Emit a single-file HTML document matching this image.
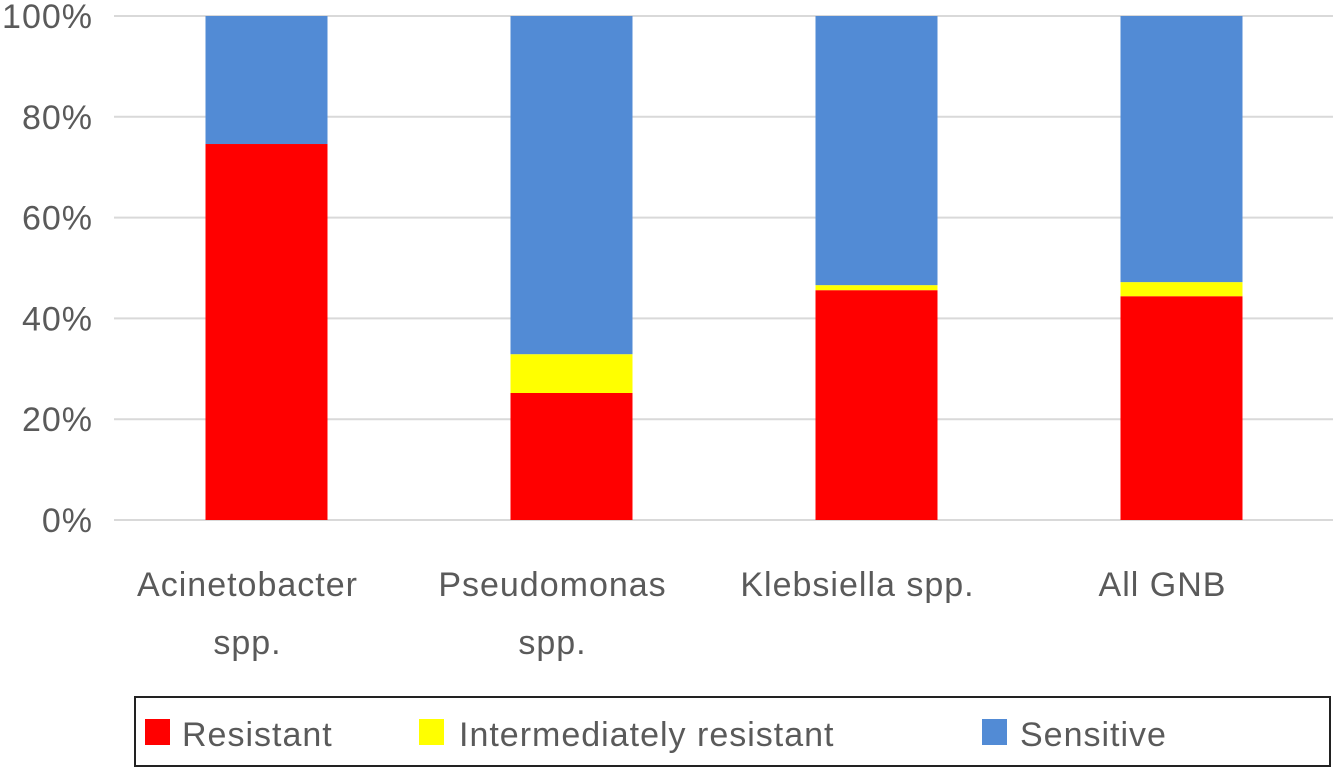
<!DOCTYPE html>
<html><head><meta charset="utf-8"><style>
body{margin:0;background:#fff;}
text{font-family:"Liberation Sans",sans-serif;fill:#5a5a5a;font-size:34px;letter-spacing:1px;}
</style></head><body>
<svg id="chart" width="1333" height="768" xmlns="http://www.w3.org/2000/svg">
<g id="grid"></g><g id="bars"></g><g id="labels"></g>
<g>
<rect x="135" y="697" width="1195" height="69" fill="#fff" stroke="#222" stroke-width="2"/>
<rect x="145" y="719" width="25" height="26" fill="#ff0000"/>
<text x="182" y="746">Resistant</text>
<rect x="419" y="719" width="25" height="26" fill="#ffff00"/>
<text x="459" y="746">Intermediately resistant</text>
<rect x="982" y="719" width="25" height="26" fill="#528bd5"/>
<text x="1020" y="746">Sensitive</text>
</g>
</svg>
<script>
const categories=[["Acinetobacter","spp."],["Pseudomonas","spp."],["Klebsiella spp."],["All GNB"]];
const resistant=[74.6,25.2,45.6,44.4];
const intermediate=[0,7.7,1.0,2.8];
const sensitive=[25.4,67.1,53.4,52.8];
const ticks=[0,20,40,60,80,100];
const NS="http://www.w3.org/2000/svg";
const y0=520,y100=16,left=114,step=305,bw=122;
const y=v=>y0-(v/100)*(y0-y100);
const cx=i=>left+step*(i+0.5);
function mk(tag,attrs,parent){const e=document.createElementNS(NS,tag);for(const k in attrs)e.setAttribute(k,attrs[k]);parent.appendChild(e);return e;}
const grid=document.getElementById('grid'),bars=document.getElementById('bars'),labels=document.getElementById('labels');
ticks.forEach(t=>{
 const l=mk('line',{x1:114,x2:1333,y1:y(t),y2:y(t),stroke:'#d9d9d9','stroke-width':2},grid);
 
 
 const tx=mk('text',{x:93,y:y(t)+12,'text-anchor':'end'},labels);
 tx.textContent=t+'%';
 
 
});
const series=[[resistant,'#ff0000','resistant'],[intermediate,'#ffff00','intermediate'],[sensitive,'#528bd5','sensitive']];
categories.forEach((c,i)=>{
 let base=0;
 series.forEach(([arr,col,nm])=>{
  const v=arr[i];
  if(v>0){
   const r=mk('rect',{x:cx(i)-bw/2,y:y(base+v),width:bw,height:y(base)-y(base+v),fill:col},bars);
   
   
  }
  base+=v;
 });
 c.forEach((line,j)=>{
  const t=mk('text',{x:cx(i)-19,y:596+j*58,'text-anchor':'middle'},labels);
  t.textContent=line;
  
  
 });
});
</script>
</body></html>
